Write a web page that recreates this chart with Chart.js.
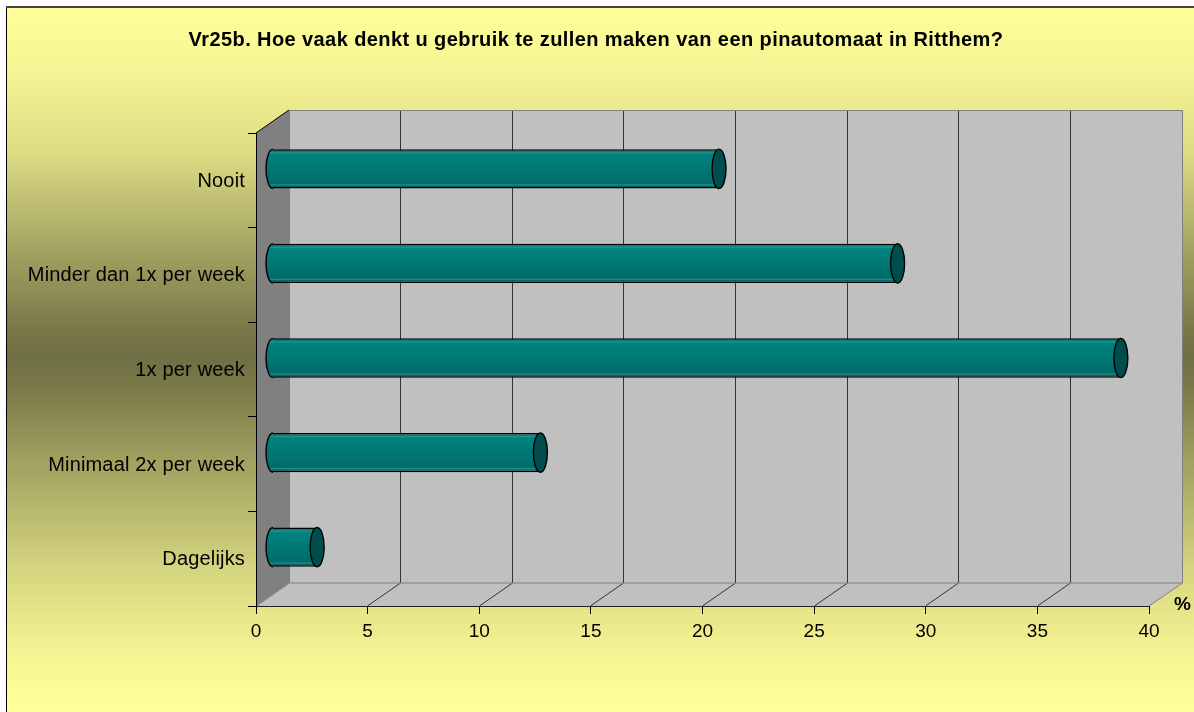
<!DOCTYPE html>
<html><head><meta charset="utf-8">
<style>html,body{margin:0;padding:0;background:#fff}#w{width:1194px;height:712px;position:relative}canvas{display:block}</style>
<script src="https://cdn.jsdelivr.net/npm/chart.js@4/dist/chart.umd.js"></script>
</head><body><div id="w"><canvas id="c" width="1194" height="712"></canvas></div>
<script>
const categories = ["Nooit","Minder dan 1x per week","1x per week","Minimaal 2x per week","Dagelijks"];
const values = [20,28,38,12,2];
const xTicks = [0,5,10,15,20,25,30,35,40];
const titleText = "Vr25b. Hoe vaak denkt u gebruik te zullen maken van een pinautomaat in Ritthem?";
const unitLabel = "%";
const DX = 33, DY = -23;
const FONT = "'Liberation Sans', Arial, sans-serif";

function spaced(obj, method, spacing, dx, dy) {
  if (!obj || obj['_sp_' + method]) return;
  const orig = obj[method];
  obj['_sp_' + method] = true;
  obj[method] = function (...args) {
    const ctx = this.ctx;
    ctx.save();
    ctx.letterSpacing = spacing;
    ctx.translate(dx, dy);
    orig.apply(this, args);
    ctx.restore();
  };
}

const scene = {
  id: 'scene',
  afterLayout(chart) {
    spaced(chart.scales.y, 'drawLabels', '0.17px', 0, 1);
    spaced(chart.titleBlock, 'draw', '0.41px', 21.5, 0);
  },
  beforeDraw(chart) {
    const {ctx, chartArea: a, scales: {x}} = chart;
    ctx.save();
    const g = ctx.createLinearGradient(0, 0, 0, 712);
    [[9,'#FFFF99'],[80,'#F3F393'],[150,'#DEDD85'],[255,'#A0A060'],[330,'#787849'],[357,'#6F6F44'],
     [385,'#787849'],[460,'#A0A060'],[570,'#D6D580'],[640,'#F0F090'],[700,'#FFFF99']]
      .forEach(([y, c]) => g.addColorStop(y / 712, c));
    ctx.fillStyle = g; ctx.fillRect(7, 8, 1187, 704);
    ctx.fillStyle = '#000'; ctx.fillRect(6, 6, 1, 706);
    ctx.fillStyle = '#444'; ctx.fillRect(6, 6, 1188, 2);
    ctx.fillStyle = '#C0C0C0';
    ctx.fillRect(a.left + DX, a.top + DY, a.width, a.height);
    ctx.beginPath();
    ctx.moveTo(a.left, a.bottom); ctx.lineTo(a.right, a.bottom);
    ctx.lineTo(a.right + DX, a.bottom + DY); ctx.lineTo(a.left + DX, a.bottom + DY); ctx.closePath();
    ctx.fill();
    ctx.fillStyle = '#808080';
    ctx.beginPath();
    ctx.moveTo(a.left, a.top); ctx.lineTo(a.left + DX, a.top + DY);
    ctx.lineTo(a.left + DX, a.bottom + DY); ctx.lineTo(a.left, a.bottom); ctx.closePath();
    ctx.fill();
    ctx.lineWidth = 1; ctx.strokeStyle = '#333';
    xTicks.slice(1, -1).forEach(v => {
      const px = Math.floor(x.getPixelForValue(v)) + 0.5;
      ctx.beginPath();
      ctx.moveTo(px, a.bottom); ctx.lineTo(px + DX, a.bottom + DY); ctx.lineTo(px + DX, a.top + DY);
      ctx.stroke();
    });
    ctx.strokeStyle = '#808080';
    ctx.beginPath();
    ctx.moveTo(a.left + 0.5, a.bottom); ctx.lineTo(a.left + DX + 0.5, a.bottom + DY);
    ctx.lineTo(a.right + DX + 0.5, a.bottom + DY); ctx.lineTo(a.right + DX + 0.5, a.top + DY + 0.5);
    ctx.lineTo(a.left + DX + 0.5, a.top + DY + 0.5);
    ctx.moveTo(a.right + DX + 0.5, a.bottom + DY); ctx.lineTo(a.right, a.bottom);
    ctx.moveTo(a.left + DX + 0.5, a.bottom + DY); ctx.lineTo(a.left + DX + 0.5, a.top + DY);
    ctx.stroke();
    ctx.strokeStyle = '#000';
    ctx.beginPath(); ctx.moveTo(a.left, a.top); ctx.lineTo(a.left + DX, a.top + DY); ctx.stroke();
    ctx.restore();
  },
  beforeDatasetsDraw(chart) {
    chart.ctx.save();
    chart.ctx.translate(DX / 2, DY / 2);
  },
  afterDatasetsDraw(chart) {
    const ctx = chart.ctx;
    chart.getDatasetMeta(0).data.forEach(b => {
      const h = b.height, ry = h / 2, rx = 7;
      ctx.beginPath();
      ctx.ellipse(b.base, b.y, rx, ry, 0, Math.PI / 2, Math.PI * 1.5);
      ctx.closePath();
      ctx.fillStyle = barGradient(ctx, b.y, h);
      ctx.fill();
      ctx.beginPath();
      ctx.ellipse(b.base, b.y, rx, ry, 0, Math.PI / 2, Math.PI * 1.5);
      ctx.lineWidth = 1.4; ctx.strokeStyle = '#000'; ctx.stroke();
      ctx.beginPath();
      ctx.ellipse(b.x, b.y, rx, ry, 0, 0, Math.PI * 2);
      ctx.fillStyle = '#004D4D'; ctx.fill();
      ctx.lineWidth = 1.4; ctx.strokeStyle = '#000'; ctx.stroke();
    });
    ctx.restore();
    const a = chart.chartArea;
    ctx.save();
    ctx.fillStyle = '#000'; ctx.font = 'bold 19px ' + FONT;
    ctx.textAlign = 'left'; ctx.textBaseline = 'middle';
    ctx.fillText(unitLabel, a.right + 25, a.bottom - 1);
    ctx.restore();
  }
};

function barGradient(ctx, yc, h) {
  const g = ctx.createLinearGradient(0, yc - h / 2, 0, yc + h / 2);
  g.addColorStop(0, '#007F7F');
  g.addColorStop(0.06, '#007F7F');
  g.addColorStop(0.09, '#2A9490');
  g.addColorStop(0.12, '#008280');
  g.addColorStop(0.5, '#007874');
  g.addColorStop(0.88, '#006C6A');
  g.addColorStop(0.91, '#2A8C88');
  g.addColorStop(0.94, '#006866');
  g.addColorStop(1, '#006666');
  return g;
}

new Chart(document.getElementById('c'), {
  type: 'bar',
  plugins: [scene],
  data: {
    labels: categories,
    datasets: [{
      data: values,
      barPercentage: 0.415,
      categoryPercentage: 1,
      borderColor: '#000',
      borderWidth: {top: 1.5, bottom: 1.5, left: 0, right: 0},
      borderSkipped: false,
      backgroundColor(c) {
        const y = c.chart.scales.y;
        const py = y ? y.getPixelForValue(c.dataIndex) : NaN;
        if (!Number.isFinite(py)) return '#007F7F';
        return barGradient(c.chart.ctx, py, 39);
      }
    }]
  },
  options: {
    indexAxis: 'y',
    responsive: false,
    animation: false,
    devicePixelRatio: 1,
    layout: {autoPadding: false, padding: {left: 0, right: 45, top: 0, bottom: 56}},
    plugins: {
      legend: {display: false},
      tooltip: {enabled: false},
      title: {
        display: true, text: titleText, color: '#000',
        font: {family: FONT, size: 20, weight: 'bold', lineHeight: 1.2},
        padding: {top: 28, bottom: 81}
      }
    },
    scales: {
      x: {
        min: 0, max: 40,
        afterBuildTicks(s) { s.ticks = xTicks.map(v => ({value: v})); },
        afterFit(s) { s.height = 50; },
        grid: {drawOnChartArea: false, drawTicks: true, tickLength: 8, tickColor: '#000', tickWidth: 1},
        border: {display: true, color: '#222', width: 1},
        ticks: {color: '#000', font: {family: FONT, size: 19}, padding: 6, maxRotation: 0, autoSkip: false}
      },
      y: {
        afterFit(s) { s.width = 256; },
        grid: {drawOnChartArea: false, drawTicks: true, tickLength: 8, tickColor: '#000', tickWidth: 1, offset: true},
        border: {display: true, color: '#000', width: 1},
        ticks: {color: '#000', font: {family: FONT, size: 20}, padding: 3, autoSkip: false}
      }
    }
  }
});
</script></body></html>
